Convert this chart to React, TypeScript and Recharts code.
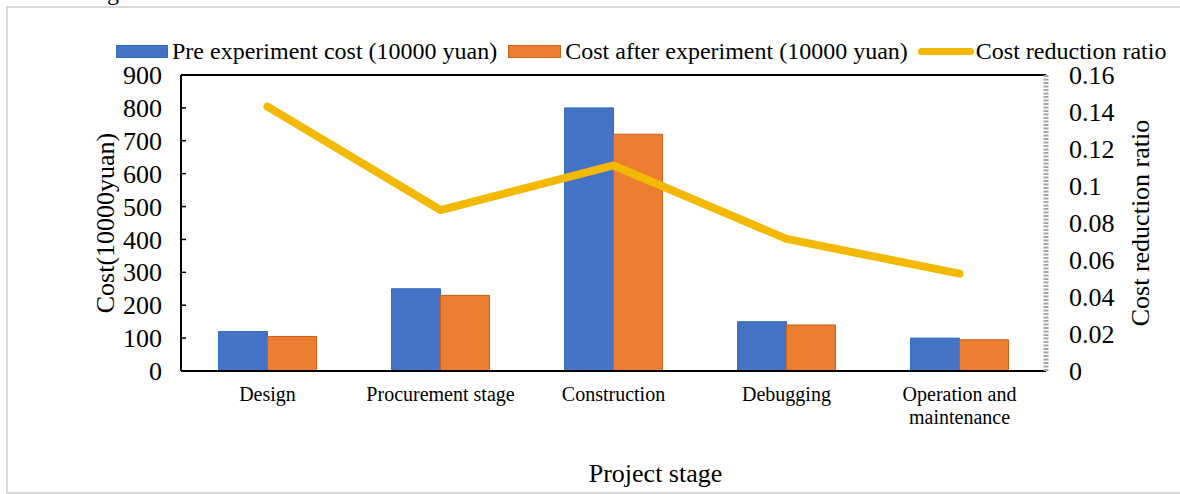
import React from 'react';
import {
  ComposedChart,
  Bar,
  Line,
  XAxis,
  YAxis,
  Legend,
  Label,
  ReferenceLine,
  Text,
} from 'recharts';

const STAGES = ['Design', 'Procurement stage', 'Construction', 'Debugging', 'Operation and maintenance'];
const PRE_COST = [120, 250, 800, 150, 100];
const POST_COST = [105, 230, 720, 140, 95];
const REDUCTION_RATIO = [0.1429, 0.087, 0.1111, 0.0714, 0.0526];
const LEFT_TICKS = [0, 100, 200, 300, 400, 500, 600, 700, 800, 900];
const RIGHT_TICKS = [0, 0.02, 0.04, 0.06, 0.08, 0.1, 0.12, 0.14, 0.16];
const SERIES_NAMES = [
  'Pre experiment cost (10000 yuan)',
  'Cost after experiment (10000 yuan)',
  'Cost reduction ratio',
];
const X_TITLE = 'Project stage';
const LEFT_TITLE = 'Cost(10000yuan)';
const RIGHT_TITLE = 'Cost reduction ratio';
const CAPTION = 'Figure';

const FONT = '"Liberation Serif", "Times New Roman", serif';
const BLUE = '#4472C4';
const BLUE_EDGE = '#2E6FBF';
const ORANGE = '#ED7D31';
const ORANGE_EDGE = '#C8621C';
const GOLD = '#F3B800';

const data = STAGES.map((stage, i) => ({
  stage,
  pre: PRE_COST[i],
  post: POST_COST[i],
  ratio: REDUCTION_RATIO[i],
}));

const CategoryTick = (props: any) => {
  const { x, y, payload } = props;
  return (
    <Text
      x={x}
      y={y}
      width={170}
      textAnchor="middle"
      verticalAnchor="start"
      lineHeight={23}
      fill="#000"
      fontFamily={FONT}
      fontSize={20}
      style={{ fontFamily: FONT, fontSize: 20 }}
    >
      {payload.value}
    </Text>
  );
};

const ValueTick = (props: any) => {
  const { x, y, payload, textAnchor } = props;
  return (
    <text
      x={x}
      y={y}
      dy="0.35em"
      textAnchor={textAnchor}
      fill="#000"
      style={{ fontFamily: FONT, fontSize: 26 }}
    >
      {String(payload.value)}
    </text>
  );
};

const LegendContent = () => (
  <div
    style={{
      display: 'flex',
      alignItems: 'center',
      fontFamily: FONT,
      fontSize: 24,
      color: '#000',
      whiteSpace: 'nowrap',
      height: 30,
      lineHeight: '30px',
    }}
  >
    <span
      style={{
        display: 'inline-block',
        width: 52,
        height: 13,
        background: BLUE,
        border: `1px solid ${BLUE_EDGE}`,
        boxSizing: 'border-box',
        marginRight: 4,
      }}
    />
    <span style={{ marginRight: 11 }}>{SERIES_NAMES[0]}</span>
    <span
      style={{
        display: 'inline-block',
        width: 53,
        height: 13,
        background: ORANGE,
        border: `1px solid ${ORANGE_EDGE}`,
        boxSizing: 'border-box',
        marginRight: 4,
      }}
    />
    <span style={{ marginRight: 10 }}>{SERIES_NAMES[1]}</span>
    <span
      style={{
        display: 'inline-block',
        width: 56,
        height: 7,
        borderRadius: 3.5,
        background: GOLD,
        marginRight: 2,
      }}
    />
    <span>{SERIES_NAMES[2]}</span>
  </div>
);

const titleStyle = { fontFamily: FONT, fontSize: 26, fill: '#000' };

export default function App() {
  return (
    <div
      style={{
        position: 'absolute',
        left: 0,
        top: 0,
        width: 1180,
        height: 494,
        overflow: 'hidden',
        background: '#fff',
        fontFamily: FONT,
      }}
    >
      <div
        style={{
          position: 'absolute',
          left: 87,
          top: -20,
          fontFamily: FONT,
          fontSize: 24,
          lineHeight: '24px',
          color: '#000',
        }}
      >
        {CAPTION}
      </div>
      <div
        style={{
          position: 'absolute',
          left: 6,
          top: 6,
          width: 1180,
          height: 488,
          border: '2px solid #D9D9D9',
          boxSizing: 'border-box',
        }}
      />
      <div style={{ position: 'absolute', left: 0, top: 0, fontFamily: FONT }}>
        <ComposedChart
          width={1180}
          height={494}
          data={data}
          margin={{ top: 75, right: 24, bottom: 23, left: 91 }}
          barCategoryGap="21.7%"
          barGap={0}
          style={{ fontFamily: FONT }}
        >
          <XAxis
            dataKey="stage"
            height={100}
            interval={0}
            tickLine={false}
            tickSize={0}
            tickMargin={16}
            axisLine={{ stroke: '#000', strokeWidth: 2 }}
            tick={<CategoryTick />}
          >
            <Label
              value={X_TITLE}
              position="center"
              dx={42}
              dy={52}
              fontFamily={FONT}
              fontSize={26}
              style={titleStyle}
            />
          </XAxis>
          <YAxis
            yAxisId="left"
            width={90}
            domain={[0, 900]}
            ticks={LEFT_TICKS}
            interval={0}
            axisLine={{ stroke: '#000', strokeWidth: 2 }}
            tickLine={{ stroke: '#000', strokeWidth: 1.5 }}
            tickSize={-5}
            tickMargin={24}
            tick={<ValueTick />}
          >
            <Label
              value={LEFT_TITLE}
              angle={-90}
              position="center"
              dx={-31}
              fontFamily={FONT}
              fontSize={26}
              style={titleStyle}
            />
          </YAxis>
          <YAxis
            yAxisId="right"
            orientation="right"
            width={110}
            domain={[0, 0.16]}
            ticks={RIGHT_TICKS}
            interval={0}
            axisLine={{ stroke: '#A6A6A6', strokeWidth: 5, strokeDasharray: '2 1.5' }}
            tickLine={false}
            tickSize={0}
            tickMargin={23}
            tick={<ValueTick />}
          >
            <Label
              value={RIGHT_TITLE}
              angle={-90}
              position="center"
              dx={39}
              fontFamily={FONT}
              fontSize={26}
              style={titleStyle}
            />
          </YAxis>
          <ReferenceLine yAxisId="left" y={900} stroke="#000" strokeWidth={2} />
          <Bar
            yAxisId="left"
            dataKey="pre"
            name={SERIES_NAMES[0]}
            fill={BLUE}
            stroke={BLUE_EDGE}
            strokeWidth={1}
            isAnimationActive={false}
          />
          <Bar
            yAxisId="left"
            dataKey="post"
            name={SERIES_NAMES[1]}
            fill={ORANGE}
            stroke={ORANGE_EDGE}
            strokeWidth={1}
            isAnimationActive={false}
          />
          <Line
            yAxisId="right"
            dataKey="ratio"
            name={SERIES_NAMES[2]}
            type="linear"
            stroke={GOLD}
            strokeWidth={8}
            strokeLinecap="round"
            strokeLinejoin="round"
            dot={false}
            activeDot={false}
            isAnimationActive={false}
          />
          <Legend
            layout="horizontal"
            verticalAlign="middle"
            align="center"
            wrapperStyle={{ left: 116, top: 36, width: 1060, height: 30 }}
            content={() => <LegendContent />}
          />
        </ComposedChart>
      </div>
    </div>
  );
}
